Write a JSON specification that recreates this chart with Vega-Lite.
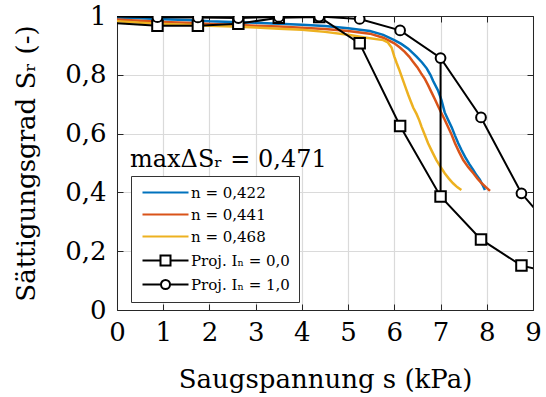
{
  "$schema": "https://vega.github.io/schema/vega-lite/v6.json",
  "width": 416,
  "height": 294,
  "autosize": {"type": "none"},
  "padding": {"left": 117, "top": 16, "right": 13, "bottom": 87},
  "config": {
    "font": "DejaVu Serif",
    "view": {"stroke": null},
    "axis": {
      "labelFont": "DejaVu Serif",
      "titleFont": "DejaVu Serif",
      "labelColor": "black",
      "titleColor": "black",
      "titleFontWeight": "normal",
      "domainColor": "#262626",
      "tickColor": "#262626",
      "gridColor": "#dadada",
      "gridWidth": 1.2
    },
    "legend": {"labelFont": "DejaVu Serif"}
  },
  "datasets": {
    "curves": [
      {"series": "n = 0,422", "s": 0, "Sr": 0.995},
      {"series": "n = 0,422", "s": 0.5, "Sr": 0.992},
      {"series": "n = 0,422", "s": 1, "Sr": 0.989},
      {"series": "n = 0,422", "s": 1.5, "Sr": 0.986},
      {"series": "n = 0,422", "s": 2, "Sr": 0.982},
      {"series": "n = 0,422", "s": 2.5, "Sr": 0.98},
      {"series": "n = 0,422", "s": 3, "Sr": 0.977},
      {"series": "n = 0,422", "s": 3.5, "Sr": 0.974},
      {"series": "n = 0,422", "s": 4, "Sr": 0.97},
      {"series": "n = 0,422", "s": 4.5, "Sr": 0.966},
      {"series": "n = 0,422", "s": 5, "Sr": 0.958},
      {"series": "n = 0,422", "s": 5.47, "Sr": 0.949},
      {"series": "n = 0,422", "s": 5.76, "Sr": 0.936},
      {"series": "n = 0,422", "s": 6.0, "Sr": 0.918},
      {"series": "n = 0,422", "s": 6.15, "Sr": 0.905},
      {"series": "n = 0,422", "s": 6.3, "Sr": 0.889},
      {"series": "n = 0,422", "s": 6.48, "Sr": 0.862},
      {"series": "n = 0,422", "s": 6.6, "Sr": 0.842},
      {"series": "n = 0,422", "s": 6.7, "Sr": 0.822},
      {"series": "n = 0,422", "s": 6.78, "Sr": 0.8},
      {"series": "n = 0,422", "s": 6.84, "Sr": 0.779},
      {"series": "n = 0,422", "s": 6.95, "Sr": 0.745},
      {"series": "n = 0,422", "s": 7.02, "Sr": 0.714},
      {"series": "n = 0,422", "s": 7.09, "Sr": 0.672},
      {"series": "n = 0,422", "s": 7.16, "Sr": 0.648},
      {"series": "n = 0,422", "s": 7.24, "Sr": 0.622},
      {"series": "n = 0,422", "s": 7.31, "Sr": 0.594},
      {"series": "n = 0,422", "s": 7.38, "Sr": 0.568},
      {"series": "n = 0,422", "s": 7.45, "Sr": 0.545},
      {"series": "n = 0,422", "s": 7.53, "Sr": 0.521},
      {"series": "n = 0,422", "s": 7.62, "Sr": 0.497},
      {"series": "n = 0,422", "s": 7.71, "Sr": 0.476},
      {"series": "n = 0,422", "s": 7.78, "Sr": 0.458},
      {"series": "n = 0,422", "s": 7.85, "Sr": 0.443},
      {"series": "n = 0,422", "s": 7.91, "Sr": 0.425},
      {"series": "n = 0,422", "s": 7.96, "Sr": 0.408},
      {"series": "n = 0,441", "s": 0, "Sr": 0.988},
      {"series": "n = 0,441", "s": 0.5, "Sr": 0.984},
      {"series": "n = 0,441", "s": 1, "Sr": 0.98},
      {"series": "n = 0,441", "s": 1.5, "Sr": 0.977},
      {"series": "n = 0,441", "s": 2, "Sr": 0.973},
      {"series": "n = 0,441", "s": 2.5, "Sr": 0.97},
      {"series": "n = 0,441", "s": 3, "Sr": 0.967},
      {"series": "n = 0,441", "s": 3.5, "Sr": 0.964},
      {"series": "n = 0,441", "s": 4, "Sr": 0.96},
      {"series": "n = 0,441", "s": 4.5, "Sr": 0.956},
      {"series": "n = 0,441", "s": 5, "Sr": 0.949},
      {"series": "n = 0,441", "s": 5.47, "Sr": 0.94},
      {"series": "n = 0,441", "s": 5.76, "Sr": 0.926},
      {"series": "n = 0,441", "s": 6.0, "Sr": 0.907},
      {"series": "n = 0,441", "s": 6.12, "Sr": 0.893},
      {"series": "n = 0,441", "s": 6.22, "Sr": 0.879},
      {"series": "n = 0,441", "s": 6.32, "Sr": 0.862},
      {"series": "n = 0,441", "s": 6.4, "Sr": 0.845},
      {"series": "n = 0,441", "s": 6.5, "Sr": 0.825},
      {"series": "n = 0,441", "s": 6.58, "Sr": 0.805},
      {"series": "n = 0,441", "s": 6.66, "Sr": 0.786},
      {"series": "n = 0,441", "s": 6.73, "Sr": 0.765},
      {"series": "n = 0,441", "s": 6.8, "Sr": 0.742},
      {"series": "n = 0,441", "s": 6.88, "Sr": 0.716},
      {"series": "n = 0,441", "s": 6.95, "Sr": 0.692},
      {"series": "n = 0,441", "s": 7.02, "Sr": 0.669},
      {"series": "n = 0,441", "s": 7.09, "Sr": 0.647},
      {"series": "n = 0,441", "s": 7.16, "Sr": 0.623},
      {"series": "n = 0,441", "s": 7.24, "Sr": 0.596},
      {"series": "n = 0,441", "s": 7.31, "Sr": 0.568},
      {"series": "n = 0,441", "s": 7.4, "Sr": 0.538},
      {"series": "n = 0,441", "s": 7.49, "Sr": 0.51},
      {"series": "n = 0,441", "s": 7.6, "Sr": 0.486},
      {"series": "n = 0,441", "s": 7.71, "Sr": 0.465},
      {"series": "n = 0,441", "s": 7.8, "Sr": 0.447},
      {"series": "n = 0,441", "s": 7.89, "Sr": 0.431},
      {"series": "n = 0,441", "s": 7.98, "Sr": 0.418},
      {"series": "n = 0,441", "s": 8.07, "Sr": 0.405},
      {"series": "n = 0,468", "s": 0, "Sr": 0.982},
      {"series": "n = 0,468", "s": 0.5, "Sr": 0.977},
      {"series": "n = 0,468", "s": 1, "Sr": 0.973},
      {"series": "n = 0,468", "s": 1.5, "Sr": 0.97},
      {"series": "n = 0,468", "s": 2, "Sr": 0.967},
      {"series": "n = 0,468", "s": 2.5, "Sr": 0.964},
      {"series": "n = 0,468", "s": 3, "Sr": 0.961},
      {"series": "n = 0,468", "s": 3.5, "Sr": 0.957},
      {"series": "n = 0,468", "s": 4, "Sr": 0.953},
      {"series": "n = 0,468", "s": 4.5, "Sr": 0.946},
      {"series": "n = 0,468", "s": 5, "Sr": 0.936},
      {"series": "n = 0,468", "s": 5.36, "Sr": 0.927},
      {"series": "n = 0,468", "s": 5.76, "Sr": 0.918},
      {"series": "n = 0,468", "s": 5.86, "Sr": 0.91},
      {"series": "n = 0,468", "s": 5.94, "Sr": 0.893},
      {"series": "n = 0,468", "s": 6.0, "Sr": 0.862},
      {"series": "n = 0,468", "s": 6.05, "Sr": 0.84},
      {"series": "n = 0,468", "s": 6.1, "Sr": 0.82},
      {"series": "n = 0,468", "s": 6.15, "Sr": 0.798},
      {"series": "n = 0,468", "s": 6.2, "Sr": 0.776},
      {"series": "n = 0,468", "s": 6.25, "Sr": 0.754},
      {"series": "n = 0,468", "s": 6.3, "Sr": 0.732},
      {"series": "n = 0,468", "s": 6.35, "Sr": 0.712},
      {"series": "n = 0,468", "s": 6.41, "Sr": 0.688},
      {"series": "n = 0,468", "s": 6.48, "Sr": 0.667},
      {"series": "n = 0,468", "s": 6.54, "Sr": 0.645},
      {"series": "n = 0,468", "s": 6.59, "Sr": 0.623},
      {"series": "n = 0,468", "s": 6.66, "Sr": 0.595},
      {"series": "n = 0,468", "s": 6.73, "Sr": 0.567},
      {"series": "n = 0,468", "s": 6.82, "Sr": 0.538},
      {"series": "n = 0,468", "s": 6.91, "Sr": 0.51},
      {"series": "n = 0,468", "s": 7.0, "Sr": 0.487},
      {"series": "n = 0,468", "s": 7.09, "Sr": 0.465},
      {"series": "n = 0,468", "s": 7.18, "Sr": 0.447},
      {"series": "n = 0,468", "s": 7.27, "Sr": 0.431},
      {"series": "n = 0,468", "s": 7.36, "Sr": 0.418},
      {"series": "n = 0,468", "s": 7.45, "Sr": 0.408},
      {"series": "Proj. Iₙ = 0,0", "s": 0, "Sr": 0.975},
      {"series": "Proj. Iₙ = 0,0", "s": 0.875, "Sr": 0.967},
      {"series": "Proj. Iₙ = 0,0", "s": 1.75, "Sr": 0.967},
      {"series": "Proj. Iₙ = 0,0", "s": 2.625, "Sr": 0.974},
      {"series": "Proj. Iₙ = 0,0", "s": 3.5, "Sr": 0.994},
      {"series": "Proj. Iₙ = 0,0", "s": 4.375, "Sr": 0.997},
      {"series": "Proj. Iₙ = 0,0", "s": 5.25, "Sr": 0.907},
      {"series": "Proj. Iₙ = 0,0", "s": 6.125, "Sr": 0.626},
      {"series": "Proj. Iₙ = 0,0", "s": 7.0, "Sr": 0.386},
      {"series": "Proj. Iₙ = 0,0", "s": 7.875, "Sr": 0.24},
      {"series": "Proj. Iₙ = 0,0", "s": 8.75, "Sr": 0.151},
      {"series": "Proj. Iₙ = 0,0", "s": 9.625, "Sr": 0.12},
      {"series": "Proj. Iₙ = 1,0", "s": 0, "Sr": 0.998},
      {"series": "Proj. Iₙ = 1,0", "s": 0.875, "Sr": 0.996},
      {"series": "Proj. Iₙ = 1,0", "s": 1.75, "Sr": 0.995},
      {"series": "Proj. Iₙ = 1,0", "s": 2.625, "Sr": 0.993},
      {"series": "Proj. Iₙ = 1,0", "s": 3.5, "Sr": 0.997},
      {"series": "Proj. Iₙ = 1,0", "s": 4.375, "Sr": 0.998},
      {"series": "Proj. Iₙ = 1,0", "s": 5.25, "Sr": 0.99},
      {"series": "Proj. Iₙ = 1,0", "s": 6.125, "Sr": 0.951},
      {"series": "Proj. Iₙ = 1,0", "s": 7.0, "Sr": 0.857},
      {"series": "Proj. Iₙ = 1,0", "s": 7.875, "Sr": 0.655},
      {"series": "Proj. Iₙ = 1,0", "s": 8.75, "Sr": 0.397},
      {"series": "Proj. Iₙ = 1,0", "s": 9.625, "Sr": 0.236}
    ],
    "connector": [{"s": 7.0, "Sr": 0.386, "Sr2": 0.857}],
    "note": [{"label": "maxΔSᵣ = 0,471"}]
  },
  "layer": [
    {
      "data": {"name": "curves"},
      "transform": [{"filter": "indexof(datum.series, 'Proj') < 0"}],
      "mark": {"type": "line", "strokeWidth": 2.5, "clip": true},
      "encoding": {
        "x": {
          "field": "s", "type": "quantitative",
          "scale": {"domain": [0, 9], "nice": false, "zero": false},
          "axis": {
            "orient": "bottom",
            "title": "Saugspannung s (kPa)",
            "values": [0, 1, 2, 3, 4, 5, 6, 7, 8, 9],
            "format": "d",
            "grid": true,
            "tickSize": -6,
            "labelFontSize": 26,
            "labelPadding": 15,
            "labelFlush": false,
            "labelOverlap": false,
            "titleFontSize": 26,
            "titleBaseline": "alphabetic",
            "titleY": 77
          }
        },
        "y": {
          "field": "Sr", "type": "quantitative",
          "scale": {"domain": [0, 1], "nice": false},
          "axis": {
            "orient": "left",
            "title": "Sättigungsgrad Sᵣ (-)",
            "values": [0, 0.2, 0.4, 0.6, 0.8, 1],
            "labelExpr": "datum.value == 0 ? '0' : datum.value == 1 ? '1' : replace(format(datum.value, '.1f'), '.', ',')",
            "grid": true,
            "tickSize": -6,
            "labelFontSize": 26,
            "labelPadding": 17,
            "labelFlush": false,
            "labelOverlap": false,
            "titleFontSize": 26,
            "titleBaseline": "alphabetic",
            "titleX": -83
          }
        },
        "stroke": {
          "field": "series", "type": "nominal",
          "scale": {
            "domain": ["Proj. Iₙ = 0,0", "Proj. Iₙ = 1,0", "n = 0,422", "n = 0,441", "n = 0,468"],
            "range": ["#000000", "#000000", "#0072BD", "#D95319", "#EDB120"]
          },
          "legend": null
        }
      }
    },
    {
      "data": {"name": "curves"},
      "transform": [{"filter": "indexof(datum.series, 'Proj') >= 0"}],
      "mark": {"type": "line", "strokeWidth": 2, "clip": true},
      "encoding": {
        "x": {"field": "s", "type": "quantitative", "axis": null},
        "y": {"field": "Sr", "type": "quantitative", "axis": null},
        "stroke": {"field": "series", "type": "nominal", "legend": null}
      }
    },
    {
      "data": {"name": "connector"},
      "mark": {"type": "rule", "strokeWidth": 2, "color": "black"},
      "encoding": {
        "x": {
          "field": "s", "type": "quantitative",
          "axis": {"orient": "top", "labels": false, "grid": false, "title": null, "tickSize": -6, "values": [0, 1, 2, 3, 4, 5, 6, 7, 8, 9]}
        },
        "y": {
          "field": "Sr", "type": "quantitative",
          "axis": {"orient": "right", "labels": false, "grid": false, "title": null, "tickSize": -6, "values": [0, 0.2, 0.4, 0.6, 0.8, 1]}
        },
        "y2": {"field": "Sr2"}
      }
    },
    {
      "data": {"name": "curves"},
      "transform": [{"filter": "datum.series == 'Proj. Iₙ = 0,0' && datum.s > 0"}],
      "mark": {"type": "point", "shape": "square", "size": 110, "filled": true, "fill": "white", "stroke": "black", "strokeWidth": 2, "opacity": 1, "clip": true},
      "encoding": {
        "x": {"field": "s", "type": "quantitative", "axis": null},
        "y": {"field": "Sr", "type": "quantitative", "axis": null}
      }
    },
    {
      "data": {"name": "curves"},
      "transform": [{"filter": "datum.series == 'Proj. Iₙ = 1,0' && datum.s > 0"}],
      "mark": {"type": "point", "shape": "circle", "size": 95, "filled": true, "fill": "white", "stroke": "black", "strokeWidth": 2, "opacity": 1, "clip": true},
      "encoding": {
        "x": {"field": "s", "type": "quantitative", "axis": null},
        "y": {"field": "Sr", "type": "quantitative", "axis": null}
      }
    },
    {
      "data": {"name": "curves"},
      "mark": {"type": "point", "filled": false, "strokeWidth": 2, "opacity": 0},
      "encoding": {
        "x": {"field": "s", "type": "quantitative", "axis": null},
        "y": {"field": "Sr", "type": "quantitative", "axis": null},
        "color": {
          "field": "series", "type": "nominal",
          "scale": {
            "domain": ["n = 0,422", "n = 0,441", "n = 0,468", "Proj. Iₙ = 0,0", "Proj. Iₙ = 1,0"],
            "range": ["#0072BD", "#D95319", "#EDB120", "#000000", "#000000"]
          },
          "legend": {
            "orient": "none",
            "legendX": 14,
            "legendY": 160,
            "title": null,
            "padding": 9,
            "fillColor": "white",
            "strokeColor": "#333333",
            "cornerRadius": 0,
            "labelFontSize": 15,
            "labelColor": "black",
            "labelOffset": 36,
            "symbolSize": 100,
            "symbolStrokeWidth": 2,
            "symbolOpacity": 1,
            "symbolFillColor": "white",
            "rowPadding": 6
          }
        },
        "shape": {
          "field": "series", "type": "nominal",
          "scale": {
            "domain": ["n = 0,422", "n = 0,441", "n = 0,468", "Proj. Iₙ = 0,0", "Proj. Iₙ = 1,0"],
            "range": [
              "M-1,0H8.2",
              "M-1,0H8.2",
              "M-1,0H8.2",
              "M-1,0H2.6M2.6,-1H4.6V1H2.6ZM4.6,0H8.2",
              "M-1,0H2.7M2.7,0A0.9,0.9 0 1,0 4.5,0A0.9,0.9 0 1,0 2.7,0M4.5,0H8.2"
            ]
          }
        }
      }
    },
    {
      "data": {"name": "note"},
      "mark": {"type": "text", "align": "left", "baseline": "alphabetic", "fontSize": 24, "color": "black"},
      "encoding": {
        "x": {"datum": 0.28, "type": "quantitative", "axis": null},
        "y": {"datum": 0.487, "type": "quantitative", "axis": null},
        "text": {"field": "label"}
      }
    }
  ]
}
